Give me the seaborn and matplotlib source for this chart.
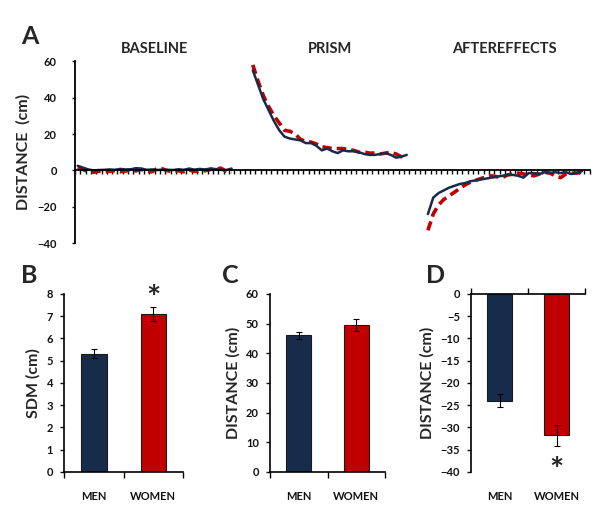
import numpy as np
import pandas as pd
import matplotlib
matplotlib.use('Agg')
import matplotlib.pyplot as plt
import seaborn as sns

# ---- data ----
groups = ['MEN', 'WOMEN']
phases = ['BASELINE', 'PRISM', 'AFTEREFFECTS']
phase_start = [0, 33, 66]   # first trial slot of each phase on the shared axis
n_trials = 30

men_baseline = [2.5, 1.5, 0.5, 0.0, 0.2, 0.3, 0.5, 0.3, 0.8, 0.5, 0.6, 1.2, 1.0, 0.3, 0.5,
                0.2, 0.4, 0.3, 0.2, 0.6, 0.3, 1.0, 0.4, 0.8, 0.5, 1.0, 0.7, 0.3, 0.2, 1.0]
women_baseline = [1.5, 0.5, -0.8, -1.0, -0.5, -0.8, -0.5, -0.3, -0.8, -0.4, 0.2, -0.3, 0.5, -0.5, -0.8,
                  1.2, 0.8, -0.3, -0.5, -0.2, -0.8, 0.3, -0.6, -0.4, -0.2, 0.5, 0.8, 1.2, -0.5, -1.0]
men_prism = [55, 47, 39, 33, 27, 22, 18.5, 17.5, 17, 16.5, 15, 15, 13.5, 11, 12,
             10.5, 9.5, 11, 10.5, 10.5, 10, 9, 8.5, 8.5, 9, 9.5, 8.5, 7, 7.5, 8.5]
women_prism = [58, 49, 41, 35, 30, 26, 22, 21.5, 20, 17, 16, 15.5, 14.5, 13, 12.5,
               12, 12, 12, 11.5, 11, 10, 10, 9.5, 9.5, 9, 9.5, 10, 9, 7.5, 7.5]
men_after = [-24, -15, -12.5, -11, -9.5, -8.5, -7.5, -7, -6, -5.5, -5, -4.5, -4, -3.5, -3,
             -2.5, -2.5, -3, -4, -1.5, -1.5, -2, -1, -1.5, -1, -1.5, -1, -2, -1.5, -0.5]
women_after = [-33, -24, -19, -16, -14, -12, -10, -8, -6.5, -5.5, -4.5, -3.5, -3, -3.5, -4,
               -2.5, -2, -1.5, -2, -2.5, -3, -2, -1, -1.5, -3, -4, -2, -1.5, -1.5, -1]

sdm_mean = [5.3, 7.1]
sdm_err = [0.2, 0.3]
dist_mean = [46.0, 49.5]
dist_err = [1.2, 2.0]
after_mean = [-24.0, -31.8]
after_err = [1.5, 2.3]

navy = '#172b4a'
red = '#c00000'
palette = {'MEN': navy, 'WOMEN': red}

# long table for panel A
rows = []
series = {
    ('MEN', 'BASELINE'): men_baseline, ('WOMEN', 'BASELINE'): women_baseline,
    ('MEN', 'PRISM'): men_prism, ('WOMEN', 'PRISM'): women_prism,
    ('MEN', 'AFTEREFFECTS'): men_after, ('WOMEN', 'AFTEREFFECTS'): women_after,
}
for (g, p), vals in series.items():
    start = phase_start[phases.index(p)]
    for i, v in enumerate(vals):
        rows.append({'group': g, 'phase': p, 'trial': start + i, 'distance': v})
df = pd.DataFrame(rows)

sns.set_style('white')
plt.rcParams['font.family'] = ['Lato', 'DejaVu Sans']
plt.rcParams['font.weight'] = 'bold'
plt.rcParams['axes.labelweight'] = 'bold'

fig = plt.figure(figsize=(6.0, 5.15), dpi=100)

# ---- panel A ----
axA = fig.add_axes([0.125, 0.528, 0.858, 0.353])
sns.lineplot(data=df[df.group == 'WOMEN'], x='trial', y='distance', units='phase', estimator=None,
             color=red, lw=2.6, dashes=False, ax=axA)
for line in axA.lines:
    line.set_dashes((2.6, 1.4))
sns.lineplot(data=df[df.group == 'MEN'], x='trial', y='distance', units='phase', estimator=None,
             color=navy, lw=1.8, ax=axA)
axA.set_xlim(-0.5, 96.5)
axA.set_ylim(-40, 60)
axA.set_yticks(range(-40, 61, 20))
axA.set_xticks(np.arange(-0.5, 97, 1.0))
axA.set_xticklabels([])
axA.spines['bottom'].set_position(('data', 0))
axA.spines['top'].set_visible(False)
axA.spines['right'].set_visible(False)
for s in ['left', 'bottom']:
    axA.spines[s].set_color('black')
    axA.spines[s].set_linewidth(1.3)
axA.tick_params(axis='x', direction='out', length=3, width=1, bottom=True, color='black')
axA.tick_params(axis='y', direction='out', length=2, width=1, left=True, labelsize=8,
                colors='#111111', pad=11)
axA.set_xlabel('')
axA.set_ylabel('DISTANCE  (cm)', fontsize=11.5, labelpad=5)
for p, start in zip(phases, phase_start):
    axA.text(start + 14.5, 63, p, ha='center', va='bottom', fontsize=10.5, fontweight='bold')
fig.text(0.035, 0.93, 'A', fontsize=18, fontweight='bold', ha='left', va='center')


def bar_panel(rect, means, errs, ylim, yticks, ylabel, letter, letter_xy, star=None, top_axis=False):
    ax = fig.add_axes(rect)
    sns.barplot(x=groups, y=means, hue=groups, palette=palette, width=0.43, saturation=1,
                edgecolor='#1a1a1a', linewidth=0.8, legend=False, ax=ax)
    ax.errorbar(x=[0, 1], y=means, yerr=errs, fmt='none', ecolor='black',
                elinewidth=0.8, capsize=2.5, capthick=0.8)
    ax.set_xlim(-0.5, 1.5)
    ax.set_ylim(*ylim)
    ax.set_yticks(yticks)
    ax.set_xticks([-0.5, 0.5, 1.5], minor=True)
    ax.set_xticks([0, 1])
    ax.set_xticklabels(groups)
    ax.spines['right'].set_visible(False)
    if top_axis:
        ax.spines['bottom'].set_visible(False)
        ax.tick_params(axis='x', which='minor', top=True, bottom=False, direction='out',
                       length=4, width=1, color='black')
    else:
        ax.spines['top'].set_visible(False)
        ax.tick_params(axis='x', which='minor', bottom=True, direction='out',
                       length=4, width=1, color='black')
    for s in ['left', 'bottom', 'top']:
        ax.spines[s].set_color('black')
        ax.spines[s].set_linewidth(1.2)
    ax.tick_params(axis='x', which='major', length=0, labelsize=8, pad=14, colors='#111111')
    ax.tick_params(axis='y', direction='out', length=3, width=1, left=True, labelsize=8,
                   colors='#111111', pad=5)
    ax.set_ylabel(ylabel, fontsize=11.5, labelpad=4)
    ax.set_xlabel('')
    fig.text(letter_xy[0], letter_xy[1], letter, fontsize=18, fontweight='bold', ha='left', va='center')
    if star is not None:
        ax.text(1, star, '*', ha='center', va='center', fontsize=24, fontweight='bold')
    return ax


bar_panel([0.107, 0.0835, 0.198, 0.346], sdm_mean, sdm_err, (0, 8), range(0, 9),
          'SDM (cm)', 'B', (0.035, 0.465), star=7.75)
bar_panel([0.45, 0.0835, 0.192, 0.346], dist_mean, dist_err, (0, 60), range(0, 61, 10),
          'DISTANCE (cm)', 'C', (0.37, 0.465))
bar_panel([0.785, 0.0835, 0.19, 0.346], after_mean, after_err, (-40, 0), range(-40, 1, 5),
          'DISTANCE (cm)', 'D', (0.71, 0.465), star=-39.8, top_axis=True)

fig.savefig('out.png', dpi=100)
